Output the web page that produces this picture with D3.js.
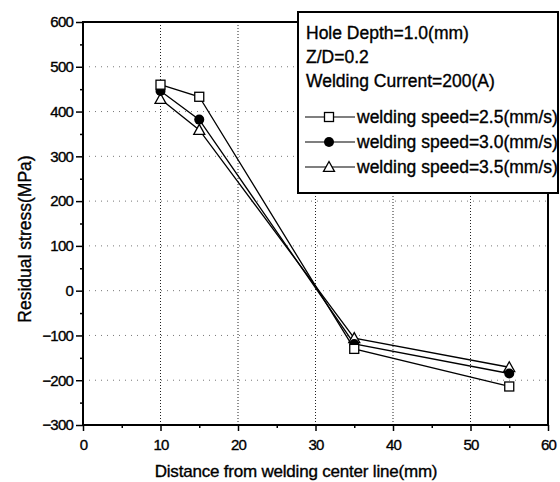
<!DOCTYPE html>
<html>
<head>
<meta charset="utf-8">
<script src="https://cdn.jsdelivr.net/npm/d3@7/dist/d3.min.js"></script>
<style>
  html, body { margin: 0; padding: 0; background: #fff; }
  svg { display: block; font-family: "Liberation Sans", Arial, sans-serif; }
  svg text { stroke: #000; stroke-width: 0.35px; fill: #000; }
</style>
</head>
<body>
<svg id="chart" width="560" height="482"></svg>
<script>
// ---- data ----
const xValues = [10, 15, 35, 55];
const speed25 = [460, 433, -130, -214];
const speed30 = [446, 382, -119, -185];
const speed35 = [428, 359, -106, -171];
const seriesNames = ["welding speed=2.5(mm/s)", "welding speed=3.0(mm/s)", "welding speed=3.5(mm/s)"];
const seriesMarkers = ["square", "circle", "triangle"];
const xTicks = [0, 10, 20, 30, 40, 50, 60];
const yTicks = [-300, -200, -100, 0, 100, 200, 300, 400, 500, 600];
const xMinor = [5, 15, 25, 35, 45, 55];
const yMinor = [-250, -150, -50, 50, 150, 250, 350, 450, 550];
const infoLines = ["Hole Depth=1.0(mm)", "Z/D=0.2", "Welding Current=200(A)"];
const xTitle = "Distance from welding center line(mm)";
const yTitle = "Residual stress(MPa)";

const series = [speed25, speed30, speed35];

// ---- layout ----
const svg = d3.select("#chart");
const L = 83, R = 548, T = 22, B = 425;
const x = d3.scaleLinear().domain([0, 60]).range([L, R]);
const y = d3.scaleLinear().domain([-300, 600]).range([B, T]);

svg.append("rect").attr("width", 560).attr("height", 482).attr("fill", "#fff");

// grid
const grid = svg.append("g");
grid.selectAll(".hg").data(yTicks.filter(v => v > -300 && v < 600)).enter().append("line")
  .attr("x1", L).attr("x2", R).attr("y1", d => y(d)).attr("y2", d => y(d))
  .attr("stroke", "#777").attr("stroke-width", 1).attr("stroke-dasharray", "1,5");
grid.selectAll(".vg").data(xTicks.filter(v => v > 0 && v < 60)).enter().append("line")
  .attr("x1", d => x(d)).attr("x2", d => x(d)).attr("y1", T).attr("y2", B)
  .attr("stroke", "#222").attr("stroke-width", 1).attr("stroke-dasharray", "1,2");

// axes
const fontTick = "15px";
const yAxis = svg.append("g").attr("transform", `translate(${L},0)`)
  .call(d3.axisLeft(y).tickValues(yTicks).tickSize(7).tickPadding(3).tickFormat(d3.format("d")));
const yAxisMinor = svg.append("g").attr("transform", `translate(${L},0)`)
  .call(d3.axisLeft(y).tickValues(yMinor).tickSize(3).tickFormat(""));
const xAxis = svg.append("g").attr("transform", `translate(0,${B})`)
  .call(d3.axisBottom(x).tickValues(xTicks).tickSize(6).tickPadding(8).tickFormat(d3.format("d")));
const xAxisMinor = svg.append("g").attr("transform", `translate(0,${B})`)
  .call(d3.axisBottom(x).tickValues(xMinor).tickSize(3).tickFormat(""));
[yAxis, yAxisMinor, xAxis, xAxisMinor].forEach(g => {
  g.select(".domain").remove();
  g.selectAll(".tick line").attr("stroke", "#000").attr("stroke-width", 1.5);
  g.selectAll(".tick text").attr("fill", "#000").style("font-size", fontTick)
    .style("letter-spacing", "-0.8px").style("font-family", "'Liberation Sans', Arial, sans-serif");
});

// frame
svg.append("rect").attr("x", L).attr("y", T).attr("width", R - L).attr("height", B - T)
  .attr("fill", "none").attr("stroke", "#000").attr("stroke-width", 2);

// series
const line = d3.line().x(d => x(d[0])).y(d => y(d[1]));
series.forEach((vals, i) => {
  const pts = xValues.map((xv, j) => [xv, vals[j]]);
  svg.append("path").datum(pts).attr("d", line)
    .attr("fill", "none").attr("stroke", "#000").attr("stroke-width", 1.3);
});

function drawMarker(g, type, cx, cy) {
  if (type === "square") {
    g.append("rect").attr("x", cx - 4.5).attr("y", cy - 4.5).attr("width", 9).attr("height", 9)
      .attr("fill", "#fff").attr("stroke", "#000").attr("stroke-width", 1.3);
  } else if (type === "circle") {
    g.append("circle").attr("cx", cx).attr("cy", cy).attr("r", 5).attr("fill", "#000");
  } else {
    const s = 5.5;
    g.append("path").attr("d", `M${cx},${cy - s}L${cx + s},${cy + s * 0.8}L${cx - s},${cy + s * 0.8}Z`)
      .attr("fill", "#fff").attr("stroke", "#000").attr("stroke-width", 1.3);
  }
}
const markers = svg.append("g");
[2, 1, 0].forEach(i => {
  xValues.forEach((xv, j) => drawMarker(markers, seriesMarkers[i], x(xv), y(series[i][j])));
});

// axis titles
svg.append("text").attr("x", 296).attr("y", 477).attr("text-anchor", "middle")
  .style("font-size", "17px").style("letter-spacing", "-0.2px").text(xTitle);
svg.append("text").attr("transform", "translate(31,239) rotate(-90)").attr("text-anchor", "middle")
  .style("font-size", "17.5px").text(yTitle);

// legend box
const lg = svg.append("g");
lg.append("rect").attr("x", 298).attr("y", 12).attr("width", 260).attr("height", 181)
  .attr("fill", "#fff").attr("stroke", "#000").attr("stroke-width", 2);
infoLines.forEach((t, i) => {
  lg.append("text").attr("x", 306).attr("y", 39 + i * 24)
    .style("font-size", "17.5px").text(t);
});
const rowY = [117, 142, 167];
seriesNames.forEach((name, i) => {
  lg.append("line").attr("x1", 305).attr("x2", 355).attr("y1", rowY[i]).attr("y2", rowY[i])
    .attr("stroke", "#000").attr("stroke-width", 1.2);
  drawMarker(lg, seriesMarkers[i], 329, rowY[i]);
  lg.append("text").attr("x", 357).attr("y", rowY[i] + 6)
    .style("font-size", "17.5px").text(name);
});
</script>
</body>
</html>
